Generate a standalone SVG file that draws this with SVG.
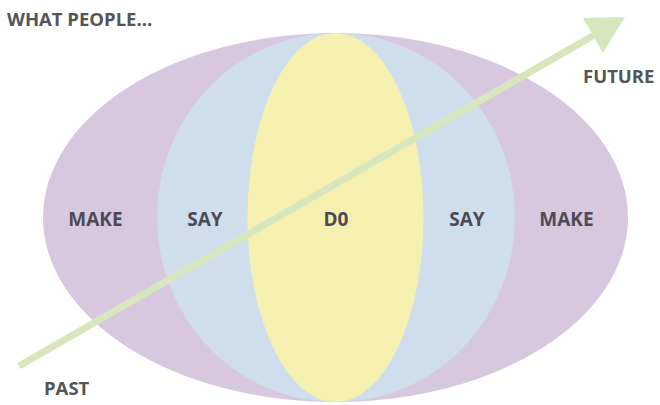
<svg xmlns="http://www.w3.org/2000/svg" width="660" height="405" viewBox="0 0 660 405">
<style>
.lbl{font-family:"Open Sans","Liberation Sans",sans-serif;font-weight:700;fill:#4d4a57;font-size:19px;text-anchor:middle}
.cap{font-family:"Open Sans","Liberation Sans",sans-serif;font-weight:700;fill:#555555;font-size:18.5px}
</style>
<rect width="660" height="405" fill="#ffffff"/>
<g id="make">
<ellipse cx="335.5" cy="217.5" rx="292.5" ry="184.5" fill="#d7c7df"/>
</g>
<g id="say">
<ellipse cx="336" cy="217.5" rx="179" ry="184.5" fill="#cfdeec"/>
</g>
<g id="do">
<ellipse cx="335.5" cy="217.5" rx="88" ry="184.5" fill="#f6f0b0"/>
</g>
<g id="connectors">
<line x1="19" y1="366" x2="596" y2="34" stroke="#d7e6bd" stroke-width="7"/>
<polygon points="583,18 625,17 603,53" fill="#d7e6bd"/>
</g>
<g id="labels">
<text class="cap" x="7" y="26">WHAT PEOPLE...</text>
<text class="cap" x="583" y="83">FUTURE</text>
<text class="cap" x="44" y="395">PAST</text>
<text class="lbl" x="95.5" y="226">MAKE</text>
<text class="lbl" x="205" y="226">SAY</text>
<text class="lbl" x="336" y="226">D0</text>
<text class="lbl" x="467" y="226">SAY</text>
<text class="lbl" x="566.5" y="226">MAKE</text>
</g>
</svg>
